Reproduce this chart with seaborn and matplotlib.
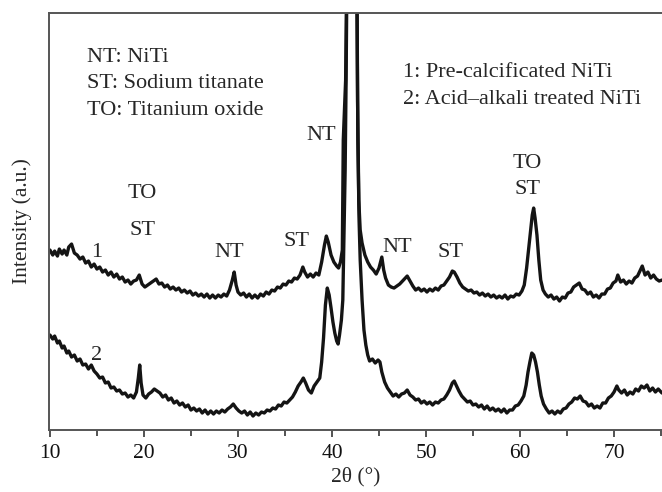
import pandas as pd
import seaborn as sns
import matplotlib.pyplot as plt

# 2theta positions (deg) and intensities (a.u.)
theta_1 = [
    10.0, 10.3, 10.5, 10.8, 11.0, 11.3, 11.5, 11.8, 12.0, 12.3, 12.6, 12.9, 13.2, 13.5, 13.8,
    14.1, 14.4, 14.7, 15.0, 15.3, 15.6, 15.9, 16.2, 16.5, 16.8, 17.1, 17.4, 17.7, 18.0, 18.3,
    18.6, 18.9, 19.2, 19.5, 19.8, 20.1, 20.4, 20.7, 21.0, 21.3, 21.6, 21.9, 22.2, 22.5, 22.8,
    23.1, 23.4, 23.7, 24.0, 24.3, 24.6, 24.9, 25.2, 25.5, 25.8, 26.1, 26.4, 26.7, 27.0, 27.3,
    27.6, 27.9, 28.2, 28.5, 28.8, 29.1, 29.4, 29.6, 29.8, 30.0, 30.3, 30.6, 30.9, 31.2, 31.5,
    31.8, 32.1, 32.4, 32.7, 33.0, 33.3, 33.6, 33.9, 34.2, 34.5, 34.8, 35.1, 35.4, 35.7, 36.0,
    36.3, 36.6, 36.9, 37.1, 37.4, 37.7, 38.0, 38.3, 38.6, 38.9, 39.2, 39.4, 39.6, 39.9, 40.2,
    40.5, 40.7, 40.9, 41.1, 41.2, 41.35, 41.45, 41.55, 42.1, 42.65, 42.72, 42.85, 43.0, 43.2,
    43.5, 43.8, 44.1, 44.4, 44.7, 45.0, 45.3, 45.5, 45.7, 46.0, 46.3, 46.6, 46.9, 47.2, 47.5,
    47.8, 48.0, 48.3, 48.6, 48.9, 49.2, 49.5, 49.8, 50.1, 50.4, 50.7, 51.0, 51.3, 51.6, 51.9,
    52.2, 52.5, 52.8, 53.0, 53.3, 53.6, 53.9, 54.2, 54.5, 54.8, 55.1, 55.4, 55.7, 56.0, 56.3,
    56.6, 56.9, 57.2, 57.5, 57.8, 58.1, 58.4, 58.7, 59.0, 59.3, 59.6, 59.9, 60.2, 60.45, 60.7,
    60.9, 61.1, 61.3, 61.45, 61.6, 61.8, 62.0, 62.2, 62.45, 62.7, 63.0, 63.3, 63.6, 63.9, 64.2,
    64.5, 64.8, 65.1, 65.4, 65.7, 66.0, 66.3, 66.6, 66.9, 67.2, 67.5, 67.8, 68.1, 68.4, 68.7,
    69.0, 69.3, 69.6, 69.9, 70.2, 70.4, 70.7, 71.0, 71.3, 71.6, 71.9, 72.2, 72.5, 72.8, 73.0,
    73.3, 73.6, 73.9, 74.2, 74.5, 74.8, 75.1,
]
intensity_1 = [
    180, 175, 179, 174, 181, 176, 180, 175, 183, 186, 177, 175, 171, 173, 167,
    169, 163, 166, 161, 163, 158, 160, 155, 158, 153, 156, 151, 153, 148, 150,
    146, 149, 150, 155, 146, 143, 145, 147, 149, 151, 146, 147, 143, 145, 141,
    143, 140, 142, 138, 140, 137, 139, 135, 137, 134, 136, 133, 136, 132, 135,
    132, 135, 133, 136, 134, 140, 150, 158, 145, 138, 135, 137, 133, 136, 132,
    135, 132, 136, 134, 138, 136, 140, 139, 143, 142, 146, 145, 149, 148, 152,
    151, 155, 163, 158, 153, 156, 153, 157, 155, 168, 185, 194, 188, 175, 168,
    164, 162, 168, 180, 290, 325, 350, 440, 3000, 440, 330, 230, 200, 187,
    175, 168, 163, 160, 156, 162, 173, 160, 152, 145, 143, 142, 144, 146, 149,
    152, 154, 149, 144, 140, 142, 139, 141, 138, 141, 139, 142, 140, 144, 145,
    149, 153, 159, 158, 153, 147, 143, 141, 139, 140, 137, 138, 135, 137, 134,
    136, 133, 135, 132, 134, 132, 135, 131, 134, 133, 136, 135, 139, 145, 162,
    180, 197, 215, 222, 212, 195, 170, 150, 140, 136, 133, 135, 131, 133, 129,
    133, 132, 137, 138, 143, 145, 147, 141, 140, 136, 138, 133, 135, 132, 136,
    136, 141, 142, 147, 149, 155, 148, 150, 146, 149, 147, 152, 154, 160, 164,
    155, 158, 152, 155, 151, 149, 150,
]

theta_2 = [
    10.0, 10.3, 10.5, 10.8, 11.0, 11.3, 11.5, 11.8, 12.0, 12.3, 12.6, 12.9, 13.2, 13.5, 13.8,
    14.1, 14.4, 14.7, 15.0, 15.3, 15.6, 15.9, 16.2, 16.5, 16.8, 17.1, 17.4, 17.7, 18.0, 18.3,
    18.6, 18.9, 19.2, 19.4, 19.55, 19.7, 19.9, 20.2, 20.5, 20.8, 21.1, 21.4, 21.7, 22.0, 22.3,
    22.6, 22.9, 23.2, 23.5, 23.8, 24.1, 24.4, 24.7, 25.0, 25.3, 25.6, 25.9, 26.2, 26.5, 26.8,
    27.1, 27.4, 27.7, 28.0, 28.3, 28.6, 28.9, 29.2, 29.5, 29.8, 30.1, 30.4, 30.7, 31.0, 31.3,
    31.6, 31.9, 32.2, 32.5, 32.8, 33.1, 33.4, 33.7, 34.0, 34.3, 34.6, 34.9, 35.2, 35.5, 35.8,
    36.1, 36.4, 36.7, 36.95, 37.2, 37.5, 37.8, 38.1, 38.4, 38.7, 38.9, 39.1, 39.3, 39.5, 39.7,
    39.9, 40.1, 40.3, 40.5, 40.65, 40.8, 41.0, 41.15, 41.25, 41.4, 41.5, 41.58, 42.12, 42.66, 42.75,
    42.88, 43.0, 43.2, 43.4, 43.6, 43.8, 44.0, 44.3, 44.6, 44.9, 45.1, 45.3, 45.6, 45.9, 46.2,
    46.5, 46.8, 47.1, 47.4, 47.7, 48.0, 48.3, 48.6, 48.9, 49.2, 49.5, 49.8, 50.1, 50.4, 50.7,
    51.0, 51.3, 51.6, 51.9, 52.2, 52.5, 52.8, 53.0, 53.2, 53.5, 53.8, 54.1, 54.4, 54.7, 55.0,
    55.3, 55.6, 55.9, 56.2, 56.5, 56.8, 57.1, 57.4, 57.7, 58.0, 58.3, 58.6, 58.9, 59.2, 59.5,
    59.8, 60.1, 60.4, 60.65, 60.85, 61.05, 61.25, 61.45, 61.65, 61.85, 62.05, 62.25, 62.5, 62.8, 63.1,
    63.4, 63.7, 64.0, 64.3, 64.6, 64.9, 65.2, 65.5, 65.8, 66.1, 66.4, 66.7, 67.0, 67.3, 67.6,
    67.9, 68.2, 68.5, 68.8, 69.1, 69.4, 69.7, 70.0, 70.3, 70.5, 70.8, 71.1, 71.4, 71.7, 72.0,
    72.3, 72.6, 72.9, 73.2, 73.5, 73.8, 74.1, 74.4, 74.7, 75.1,
]
intensity_2 = [
    95, 91, 94, 87, 89, 82, 84, 77, 79, 73, 75, 69, 71, 65, 66,
    61, 65, 59, 56, 52, 53, 47, 48, 42, 43, 39, 40, 36, 37, 33,
    35, 32, 38, 52, 65, 47, 35, 32, 36, 38, 41, 39, 37, 33, 35,
    30, 32, 27, 29, 25, 27, 23, 25, 20, 22, 19, 21, 17, 20, 16,
    19, 16, 19, 17, 20, 18, 21, 23, 26, 22, 19, 17, 19, 15, 18,
    14, 17, 15, 18, 17, 20, 19, 22, 21, 25, 24, 28, 27, 30, 33,
    38, 44, 48, 52, 47, 40, 37, 44, 48, 52, 68, 92, 125, 142, 135,
    122, 108, 97, 89, 86, 95, 110, 130, 180, 260, 350, 440, 3000, 440, 290,
    210, 170, 130, 100, 85, 75, 69, 71, 67, 70, 68, 58, 48, 42, 38,
    34, 36, 33, 36, 37, 40, 35, 33, 30, 31, 27, 29, 26, 28, 25,
    28, 27, 30, 31, 35, 40, 47, 49, 45, 39, 34, 31, 28, 29, 25,
    26, 23, 25, 21, 24, 20, 22, 19, 21, 18, 21, 17, 20, 20, 24,
    25, 29, 34, 45, 58, 68, 77, 75, 68, 58, 45, 34, 26, 21, 17,
    19, 16, 19, 17, 21, 22, 26, 28, 32, 31, 34, 29, 28, 24, 26,
    22, 24, 22, 27, 27, 32, 34, 38, 44, 40, 37, 40, 35, 38, 36,
    41, 39, 44, 42, 45, 39, 42, 38, 41, 37,
]

df = pd.concat([
    pd.DataFrame({"theta": theta_1, "intensity": intensity_1, "sample": "1"}),
    pd.DataFrame({"theta": theta_2, "intensity": intensity_2, "sample": "2"}),
])

sns.set_style("ticks")
plt.rcParams["font.family"] = ["Liberation Serif", "DejaVu Serif"]
plt.rcParams["font.size"] = 16

fig = plt.figure(figsize=(6.62, 4.92), dpi=100)
ax = fig.add_axes([0.074, 0.126, 0.926, 0.848])

sns.lineplot(
    data=df, x="theta", y="intensity", hue="sample", units="sample",
    estimator=None, sort=False, palette={"1": "#141414", "2": "#141414"},
    linewidth=2.4, legend=False, ax=ax,
)

ax.set_xlim(9.9, 75.1)
ax.set_ylim(0, 417.3)
ax.set_xticks([10, 20, 30, 40, 50, 60, 70])
ax.set_xticks([15, 25, 35, 45, 55, 65, 75], minor=True)
ax.set_yticks([])
ax.tick_params(axis="x", which="major", direction="out", length=5, width=1.3,
               colors="#444444", labelcolor="#111111", labelsize=15.5, pad=5)
ax.tick_params(axis="x", which="minor", direction="out", length=4, width=1.3, colors="#444444")
ax.spines["right"].set_visible(False)
for side in ["left", "top", "bottom"]:
    ax.spines[side].set_linewidth(1.4)
    ax.spines[side].set_color("#555555")

ax.set_xlabel("2θ (°)", fontsize=15.5, labelpad=3)
ax.set_ylabel("Intensity (a.u.)", fontsize=15.5, labelpad=12)

# key text blocks
ax.text(13.9, 373, "NT: NiTi", ha="left", va="center", fontsize=16)
ax.text(13.9, 347, "ST: Sodium titanate", ha="left", va="center", fontsize=16)
ax.text(13.9, 320, "TO: Titanium oxide", ha="left", va="center", fontsize=16)
ax.text(47.6, 358, "1: Pre-calcificated NiTi", ha="left", va="center", fontsize=16)
ax.text(47.6, 331, "2: Acid–alkali treated NiTi", ha="left", va="center", fontsize=16)

# peak labels
peak_labels = [
    (38.8, 295, "NT"), (19.85, 237, "TO"), (19.85, 200, "ST"),
    (15.0, 178, "1"), (15.0, 75, "2"), (29.1, 178, "NT"), (36.2, 189, "ST"),
    (46.9, 183, "NT"), (52.6, 178, "ST"), (60.8, 267, "TO"), (60.8, 241, "ST"),
]
for x, y, s in peak_labels:
    ax.text(x, y, s, ha="center", va="center", fontsize=16)

plt.savefig("out.png", dpi=100)
